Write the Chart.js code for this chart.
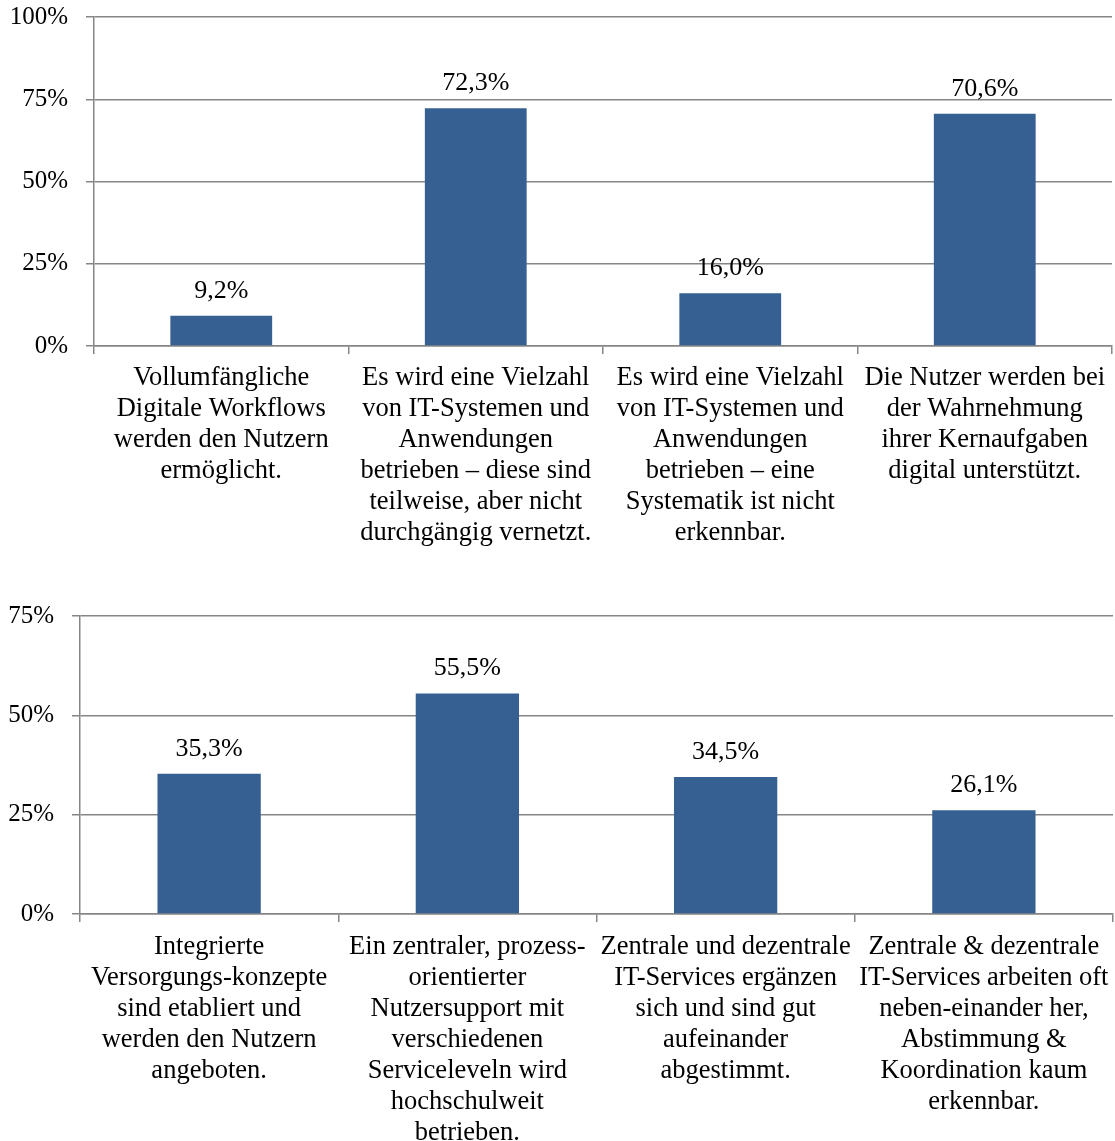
<!DOCTYPE html>
<html>
<head>
<meta charset="utf-8">
<script src="https://cdn.jsdelivr.net/npm/chart.js@4"></script>
<style>
  html, body { margin: 0; padding: 0; background: #fff; }
  .box { position: absolute; left: 0; width: 1115px; }
</style>
</head>
<body>
<div class="box" style="top:0;height:570px;"><canvas id="chartTop"></canvas></div>
<div class="box" style="top:570px;height:571px;"><canvas id="chartBottom"></canvas></div>
<script>
// Data
const categoriesTop = [
    ['Vollumfängliche', 'Digitale Workflows', 'werden den Nutzern', 'ermöglicht.'],
    ['Es wird eine Vielzahl', 'von IT-Systemen und', 'Anwendungen', 'betrieben – diese sind', 'teilweise, aber nicht', 'durchgängig vernetzt.'],
    ['Es wird eine Vielzahl', 'von IT-Systemen und', 'Anwendungen', 'betrieben – eine', 'Systematik ist nicht', 'erkennbar.'],
    ['Die Nutzer werden bei', 'der Wahrnehmung', 'ihrer Kernaufgaben', 'digital unterstützt.']
];
const valuesTop = [9.2, 72.3, 16.0, 70.6];

const categoriesBottom = [
    ['Integrierte', 'Versorgungs-konzepte', 'sind etabliert und', 'werden den Nutzern', 'angeboten.'],
    ['Ein zentraler, prozess-', 'orientierter', 'Nutzersupport mit', 'verschiedenen', 'Serviceleveln wird', 'hochschulweit', 'betrieben.'],
    ['Zentrale und dezentrale', 'IT-Services ergänzen', 'sich und sind gut', 'aufeinander', 'abgestimmt.'],
    ['Zentrale & dezentrale', 'IT-Services arbeiten oft', 'neben-einander her,', 'Abstimmung &', 'Koordination kaum', 'erkennbar.']
];
const valuesBottom = [35.3, 55.5, 34.5, 26.1];

const yMaxTop = 100;
const yMaxBottom = 75;
const yStep = 25;

const barColor = '#376092';
const gridColor = '#868686';
const fontFamily = '"Liberation Serif", "Times New Roman", serif';

// value labels above bars
const valueLabels = {
    id: 'valueLabels',
    afterDatasetsDraw(chart) {
        const ctx = chart.ctx;
        const meta = chart.getDatasetMeta(0);
        const data = chart.data.datasets[0].data;
        ctx.save();
        ctx.font = '26px ' + fontFamily;
        ctx.fillStyle = '#000';
        ctx.textAlign = 'center';
        ctx.textBaseline = 'alphabetic';
        meta.data.forEach((bar, i) => {
            const txt = data[i].toFixed(1).replace('.', ',') + '%';
            ctx.fillText(txt, bar.x, bar.y - 18);
        });
        ctx.restore();
    }
};

function makeChart(id, labels, values, yMax, yWidth, xHeight, padTop, padRight, labelPad) {
    const ctx = document.getElementById(id).getContext('2d');
    return new Chart(ctx, {
        type: 'bar',
        data: {
            labels: labels,
            datasets: [{
                data: values,
                backgroundColor: barColor,
                borderWidth: 0,
                barPercentage: 0.4,
                categoryPercentage: 1
            }]
        },
        options: {
            responsive: true,
            maintainAspectRatio: false,
            animation: false,
            layout: { padding: { top: padTop, right: padRight, left: 0, bottom: 0 } },
            plugins: {
                legend: { display: false },
                tooltip: { enabled: false }
            },
            scales: {
                x: {
                    offset: true,
                    grid: {
                        offset: true,
                        drawOnChartArea: false,
                        drawTicks: true,
                        tickLength: 8,
                        color: gridColor,
                        lineWidth: 1.5
                    },
                    border: { color: gridColor, width: 1.5 },
                    ticks: {
                        autoSkip: false,
                        maxRotation: 0,
                        minRotation: 0,
                        padding: labelPad,
                        color: '#000',
                        font: { family: fontFamily, size: 26.5, lineHeight: 31 / 26.5 }
                    },
                    afterFit(scale) {
                        scale.height = xHeight;
                        scale.paddingLeft = 0;
                        scale.paddingRight = 0;
                    }
                },
                y: {
                    min: 0,
                    max: yMax,
                    grid: {
                        color: gridColor,
                        lineWidth: 1.5,
                        drawTicks: true,
                        tickLength: 8
                    },
                    border: { color: gridColor, width: 1.5 },
                    ticks: {
                        stepSize: yStep,
                        padding: 18,
                        color: '#000',
                        font: { family: fontFamily, size: 25 },
                        callback: (v) => v + '%'
                    },
                    afterFit(scale) {
                        scale.width = yWidth;
                        scale.paddingTop = 0;
                        scale.paddingBottom = 0;
                    }
                }
            }
        },
        plugins: [valueLabels]
    });
}

const topChart = makeChart('chartTop', categoriesTop, valuesTop, yMaxTop, 94, 224, 17, 3, 9);
const bottomChart = makeChart('chartBottom', categoriesBottom, valuesBottom, yMaxBottom, 80, 227, 46, 2, 10);
</script>
</body>
</html>
